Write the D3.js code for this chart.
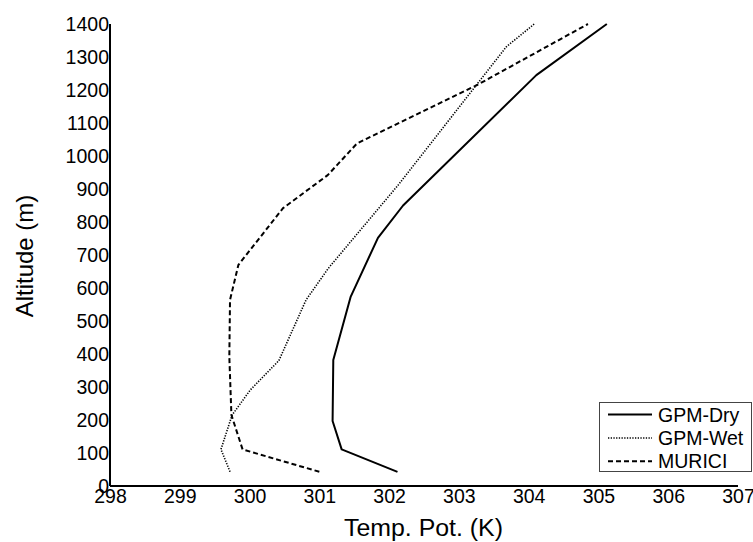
<!DOCTYPE html>
<html>
<head>
<meta charset="utf-8">
<script src="https://cdn.jsdelivr.net/npm/d3@7"></script>
<style>
  html, body { margin: 0; padding: 0; background: #fff; }
  svg { display: block; font-family: "Liberation Sans", Arial, sans-serif; }
</style>
</head>
<body>
<svg id="chart" width="753" height="542"></svg>
<script>
// ---- data ----
const xTicks = [298, 299, 300, 301, 302, 303, 304, 305, 306, 307];
const yTicks = [0, 100, 200, 300, 400, 500, 600, 700, 800, 900, 1000, 1100, 1200, 1300, 1400];

const gpmDryTemp = [302.12, 301.32, 301.19, 301.20, 301.45, 301.84, 302.20, 304.11, 305.12];
const gpmDryAlt  = [43, 111, 197, 382, 574, 752, 850, 1245, 1400];

const gpmWetTemp = [299.72, 299.59, 299.75, 300.01, 300.42, 300.81, 301.13, 302.13, 303.68, 304.08];
const gpmWetAlt  = [43, 111, 215, 291, 380, 564, 660, 912, 1331, 1400];

const muriciTemp = [301.00, 299.90, 299.74, 299.71, 299.72, 299.84, 300.48, 301.12, 301.54, 303.26, 304.85];
const muriciAlt  = [43, 111, 215, 392, 564, 670, 842, 942, 1038, 1215, 1400];

const seriesNames = ["GPM-Dry", "GPM-Wet", "MURICI"];

// ---- layout ----
const svg = d3.select("#chart");
const mLeft = 110, mRight = 738, mTop = 24, mBottom = 486;

const x = d3.scaleLinear().domain([298, 307]).range([mLeft, mRight]);
const y = d3.scaleLinear().domain([0, 1400]).range([mBottom, mTop]);

const styles = [
  { width: 2, dash: null },
  { width: 1.6, dash: "1.3,1.4" },
  { width: 2, dash: "5,3" }
];

const series = [
  d3.zip(gpmDryTemp, gpmDryAlt),
  d3.zip(gpmWetTemp, gpmWetAlt),
  d3.zip(muriciTemp, muriciAlt)
];

const line = d3.line().x(d => x(d[0])).y(d => y(d[1]));

series.forEach((s, i) => {
  svg.append("path")
    .datum(s)
    .attr("d", line)
    .attr("fill", "none")
    .attr("stroke", "#000")
    .attr("stroke-width", styles[i].width)
    .attr("stroke-dasharray", styles[i].dash)
    .attr("stroke-linejoin", "round");
});

// ---- axes ----
const xAxis = d3.axisBottom(x).tickValues(xTicks).tickSize(0).tickPadding(0).tickFormat(d3.format("d"));
const gx = svg.append("g").attr("transform", `translate(0,${mBottom})`).call(xAxis);
gx.select(".domain").attr("stroke", "#000").attr("stroke-width", 2).attr("d", `M${mLeft},0H${mRight}`);
gx.selectAll("text").attr("font-size", 19.5).attr("fill", "#000")
  .attr("font-family", "'Liberation Sans', Arial, sans-serif")
  .attr("dy", null).attr("y", 17);

const yAxis = d3.axisLeft(y).tickValues(yTicks).tickSize(0).tickPadding(1).tickFormat(d3.format("d"));
const gy = svg.append("g").attr("transform", `translate(${mLeft},0)`).call(yAxis);
gy.select(".domain").attr("stroke", "#000").attr("stroke-width", 2).attr("d", `M0,${mTop}V${mBottom}`);
gy.selectAll("text").attr("font-size", 19.5).attr("fill", "#000")
  .attr("font-family", "'Liberation Sans', Arial, sans-serif");

// ---- axis titles ----
svg.append("text")
  .attr("x", (mLeft + mRight) / 2 - 0.5).attr("y", 536)
  .attr("text-anchor", "middle")
  .attr("font-size", 23)
  .attr("textLength", 159).attr("lengthAdjust", "spacingAndGlyphs")
  .text("Temp. Pot. (K)");

svg.append("text")
  .attr("transform", "translate(33,256) rotate(-90)")
  .attr("text-anchor", "middle")
  .attr("font-size", 24)
  .text("Altitude (m)");

// ---- legend ----
const lg = svg.append("g");
lg.append("rect")
  .attr("x", 599.5).attr("y", 402.5).attr("width", 152).attr("height", 69)
  .attr("fill", "#fff").attr("stroke", "#444").attr("stroke-width", 1);

const legendBaselines = [421.5, 445, 468.3];
seriesNames.forEach((name, i) => {
  const cy = legendBaselines[i] - 7;
  lg.append("line")
    .attr("x1", 608).attr("x2", 652).attr("y1", cy).attr("y2", cy)
    .attr("stroke", "#000")
    .attr("stroke-width", styles[i].width)
    .attr("stroke-dasharray", styles[i].dash);
  lg.append("text")
    .attr("x", 658).attr("y", legendBaselines[i])
    .attr("font-size", 19.5)
    .text(name);
});
</script>
</body>
</html>
